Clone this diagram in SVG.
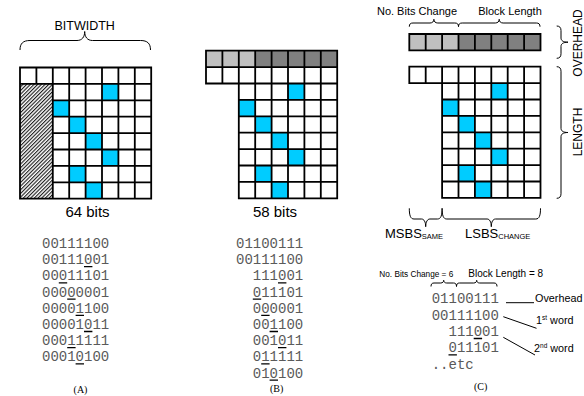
<svg xmlns="http://www.w3.org/2000/svg" width="584" height="396" viewBox="0 0 584 396">
<style>
.grid{fill:none;stroke:#000;stroke-width:1.8;stroke-linecap:square}
.blue{fill:#00ccff}
.lg{fill:#c0c0c0}
.dg{fill:#808080}
.wh{fill:#fff}
.lbl{font-family:"Liberation Sans",Arial,sans-serif;fill:#000}
.mono{font-family:"Liberation Mono","Courier New",monospace;font-size:14px;fill:#5a5a5a}
.ul{stroke:#000;stroke-width:1.3}
.cap{font-family:"Liberation Serif","Times New Roman",serif;font-size:10px;fill:#000;text-anchor:middle}
.brace{fill:none;stroke:#000;stroke-width:1}
</style>
<defs>
<pattern id="hatch" patternUnits="userSpaceOnUse" width="2.6" height="2.6" patternTransform="rotate(45)">
<rect width="2.6" height="2.6" fill="#fff"/>
<line x1="0.6" y1="0" x2="0.6" y2="2.6" stroke="#000" stroke-width="1"/>
</pattern>
</defs>
<rect width="584" height="396" fill="#fff"/>

<g id="panelA">
<text class="lbl" x="84.7" y="29.5" font-size="12.5" text-anchor="middle">BITWIDTH</text>
<rect class="wh" x="20" y="67.5" width="131.2" height="131.2"/>
<rect x="20" y="83.9" width="32.8" height="114.8" fill="url(#hatch)"/>
<rect class="blue" x="102" y="83.9" width="16.4" height="16.4"/>
<rect class="blue" x="52.8" y="100.3" width="16.4" height="16.4"/>
<rect class="blue" x="69.2" y="116.7" width="16.4" height="16.4"/>
<rect class="blue" x="85.6" y="133.1" width="16.4" height="16.4"/>
<rect class="blue" x="102" y="149.5" width="16.4" height="16.4"/>
<rect class="blue" x="69.2" y="165.9" width="16.4" height="16.4"/>
<rect class="blue" x="85.6" y="182.3" width="16.4" height="16.4"/>
<path class="grid" d="M20,67.5H151.2M20,83.9H151.2M52.8,100.3H151.2M52.8,116.7H151.2M52.8,133.1H151.2M52.8,149.5H151.2M52.8,165.9H151.2M52.8,182.3H151.2M20,198.7H151.2M20,67.5V198.7M36.4,67.5V83.9M52.8,67.5V198.7M69.2,67.5V198.7M85.6,67.5V198.7M102,67.5V198.7M118.4,67.5V198.7M134.8,67.5V198.7M151.2,67.5V198.7"/>
<text class="lbl" x="87.5" y="216.7" font-size="15" text-anchor="middle">64 bits</text>
<text class="mono" x="42" y="248">00111100</text>
<text class="mono" x="42" y="264.2">00111001</text>
<text class="mono" x="42" y="280.4">00011101</text>
<text class="mono" x="42" y="296.6">00000001</text>
<text class="mono" x="42" y="312.8">00001100</text>
<text class="mono" x="42" y="329">00001011</text>
<text class="mono" x="42" y="345.2">00011111</text>
<text class="mono" x="42" y="361.4">00010100</text>
<path class="ul" d="M84,266.7H92.4M58.8,282.9H67.2M67.2,299.1H75.6M75.6,315.3H84M84,331.5H92.4M67.2,347.7H75.6M75.6,363.9H84"/>
<text class="cap" x="80.5" y="393">(A)</text>
</g>

<g id="panelB">
<rect class="wh" x="206" y="67.1" width="131.2" height="16.4"/>
<rect class="wh" x="238.8" y="83.5" width="98.4" height="114.8"/>
<rect class="lg" x="206" y="50.7" width="49.2" height="16.4"/>
<rect class="dg" x="255.2" y="50.7" width="82" height="16.4"/>
<rect class="blue" x="288" y="83.5" width="16.4" height="16.4"/>
<rect class="blue" x="238.8" y="99.9" width="16.4" height="16.4"/>
<rect class="blue" x="255.2" y="116.3" width="16.4" height="16.4"/>
<rect class="blue" x="271.6" y="132.7" width="16.4" height="16.4"/>
<rect class="blue" x="288" y="149.1" width="16.4" height="16.4"/>
<rect class="blue" x="255.2" y="165.5" width="16.4" height="16.4"/>
<rect class="blue" x="271.6" y="181.9" width="16.4" height="16.4"/>
<path class="grid" d="M206,50.7H337.2M206,67.1H337.2M206,83.5H337.2M238.8,99.9H337.2M238.8,116.3H337.2M238.8,132.7H337.2M238.8,149.1H337.2M238.8,165.5H337.2M238.8,181.9H337.2M238.8,198.3H337.2M206,50.7V83.5M222.4,50.7V83.5M238.8,50.7V198.3M255.2,50.7V198.3M271.6,50.7V198.3M288,50.7V198.3M304.4,50.7V198.3M320.8,50.7V198.3M337.2,50.7V198.3"/>
<text class="lbl" x="275" y="216.7" font-size="15" text-anchor="middle">58 bits</text>
<text class="mono" x="236" y="248">01100111</text>
<text class="mono" x="236" y="264.2">00111100</text>
<text class="mono" x="252.8" y="280.4">111001</text>
<text class="mono" x="252.8" y="296.6">011101</text>
<text class="mono" x="252.8" y="312.8">000001</text>
<text class="mono" x="252.8" y="329">001100</text>
<text class="mono" x="252.8" y="345.2">001011</text>
<text class="mono" x="252.8" y="361.4">011111</text>
<text class="mono" x="252.8" y="377.6">010100</text>
<path class="ul" d="M278,282.9H286.4M252.8,299.1H261.2M261.2,315.3H269.6M269.6,331.5H278M278,347.7H286.4M261.2,363.9H269.6M269.6,380.1H278"/>
<text class="cap" x="276.7" y="392">(B)</text>
</g>

<g id="panelC">
<text class="lbl" x="417" y="14.5" font-size="11" text-anchor="middle">No. Bits Change</text>
<text class="lbl" x="510" y="14.5" font-size="11" text-anchor="middle">Block Length</text>
<rect class="lg" x="409.3" y="34" width="49.2" height="16.4"/>
<rect class="dg" x="458.5" y="34" width="82" height="16.4"/>
<path class="grid" d="M409.3,34H540.5M409.3,50.4H540.5M409.3,34V50.4M425.7,34V50.4M442.1,34V50.4M458.5,34V50.4M474.9,34V50.4M491.3,34V50.4M507.7,34V50.4M524.1,34V50.4M540.5,34V50.4"/>
<rect class="wh" x="409.3" y="66.7" width="131.2" height="16.4"/>
<rect class="wh" x="442.1" y="83.1" width="98.4" height="114.8"/>
<rect class="blue" x="491.3" y="83.1" width="16.4" height="16.4"/>
<rect class="blue" x="442.1" y="99.5" width="16.4" height="16.4"/>
<rect class="blue" x="458.5" y="115.9" width="16.4" height="16.4"/>
<rect class="blue" x="474.9" y="132.3" width="16.4" height="16.4"/>
<rect class="blue" x="491.3" y="148.7" width="16.4" height="16.4"/>
<rect class="blue" x="458.5" y="165.1" width="16.4" height="16.4"/>
<rect class="blue" x="474.9" y="181.5" width="16.4" height="16.4"/>
<path class="grid" d="M409.3,66.7H540.5M409.3,83.1H540.5M442.1,99.5H540.5M442.1,115.9H540.5M442.1,132.3H540.5M442.1,148.7H540.5M442.1,165.1H540.5M442.1,181.5H540.5M442.1,197.9H540.5M409.3,66.7V83.1M425.7,66.7V83.1M442.1,66.7V197.9M458.5,66.7V197.9M474.9,66.7V197.9M491.3,66.7V197.9M507.7,66.7V197.9M524.1,66.7V197.9M540.5,66.7V197.9"/>
<text class="lbl" font-size="12" text-anchor="middle" transform="translate(581.5,43) rotate(-90)">OVERHEAD</text>
<text class="lbl" font-size="12" text-anchor="middle" transform="translate(581.5,132) rotate(-90)">LENGTH</text>
<text class="lbl" x="385" y="237.7" font-size="13">MSBS<tspan font-size="7.5" dy="1.6">SAME</tspan></text>
<text class="lbl" x="465" y="237.7" font-size="13">LSBS<tspan font-size="7.5" dy="1.6">CHANGE</tspan></text>
<text class="lbl" x="379.3" y="277.3" font-size="9.6" textLength="74" lengthAdjust="spacingAndGlyphs">No. Bits Change = 6</text>
<text class="lbl" x="468.3" y="277.3" font-size="10">Block Length = 8</text>
<text class="mono" x="431.7" y="303.3">01100111</text>
<text class="mono" x="431.7" y="319.6">00111100</text>
<text class="mono" x="448.5" y="336">111001</text>
<text class="mono" x="448.5" y="352.3">011101</text>
<text class="mono" x="431.7" y="368.6">..etc</text>
<path class="ul" d="M473.7,338.5H482.1M448.5,354.8H456.9"/>
<text class="lbl" x="535" y="302" font-size="10.8">Overhead</text>
<text class="lbl" x="536" y="324" font-size="10.8">1<tspan font-size="6.5" dy="-4">st</tspan><tspan dy="4"> word</tspan></text>
<text class="lbl" x="534" y="352" font-size="10.8">2<tspan font-size="6.5" dy="-4">nd</tspan><tspan dy="4"> word</tspan></text>
<text class="cap" x="480.7" y="390">(C)</text>
</g>

<g id="connectors">
<path class="brace" d="M20,50 C20,43.5 23,40.5 30,40.5 L77,40.5 C82,40.5 84.7,37 84.7,31.5 C84.7,37 87.4,40.5 92.4,40.5 L140.5,40.5 C147.5,40.5 150.5,43.5 150.5,50"/>
<path class="brace" d="M409.3,26.7 C409.3,24 410.5,23 413,23 L430,23 C432.5,23 433.9,21.5 433.9,19.3 C433.9,21.5 435.3,23 437.8,23 L454.8,23 C457.3,23 458.5,24 458.5,26.7"/>
<path class="brace" d="M458.5,26.7 C458.5,24 459.7,23 462.2,23 L495.3,23 C497.8,23 499.2,21.5 499.2,19.3 C499.2,21.5 500.6,23 503.1,23 L536.3,23 C538.8,23 540,24 540,26.7"/>
<path class="brace" d="M556.7,26 C559.5,26 561,27.5 561,30.5 L561,38 C561,40.5 563,42.2 568,42.2 C563,42.2 561,43.9 561,46.4 L561,53.8 C561,56.8 559.5,58.3 556.7,58.3"/>
<path class="brace" d="M556.7,66.7 C559.5,66.7 561,68.2 561,71.2 L561,128.3 C561,130.8 563,132.5 568,132.5 C563,132.5 561,134.2 561,136.7 L561,193.8 C561,196.8 559.5,198.3 556.7,198.3"/>
<path class="brace" d="M409.3,208.3 C409.3,215.5 410.5,219 414,219 L421.5,219 C424,219 425.7,222 425.7,226.7 C425.7,222 427.4,219 429.9,219 L437.4,219 C440.9,219 442.1,215.5 442.1,208.3"/>
<path class="brace" d="M442.1,208.3 C442.1,215.5 443.3,219 446.8,219 L487.1,219 C489.6,219 491.3,222 491.3,226.7 C491.3,222 493,219 495.5,219 L535.8,219 C539.3,219 540.5,215.5 540.5,208.3"/>
<path class="brace" d="M431,286.5 C431,284 432,283 434,283 L440.7,283 C442.7,283 443.7,281.8 443.7,280.3 C443.7,281.8 444.7,283 446.7,283 L453.5,283 C455.5,283 456.5,284 456.5,286.5"/>
<path class="brace" d="M456.5,286.5 C456.5,284 457.5,283 459.5,283 L473.7,283 C475.7,283 476.7,281.8 476.7,280.3 C476.7,281.8 477.7,283 479.7,283 L494,283 C496,283 497,284 497,286.5"/>
<path class="brace" d="M506,302.7H534M503.3,316.7L536.5,328.3M503.3,337.3L535,355"/>
</g>
</svg>
